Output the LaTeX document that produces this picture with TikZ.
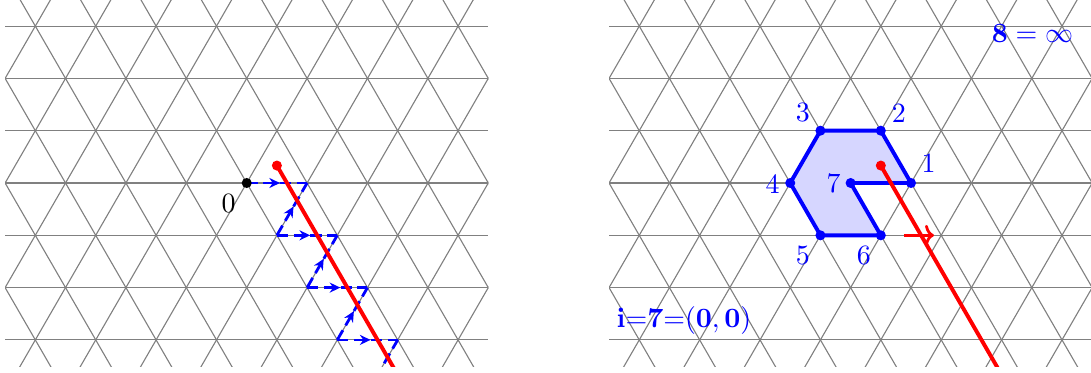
\documentclass[tikz,border=0pt]{standalone}
\usetikzlibrary{arrows.meta,decorations.markings}
\begin{document}
\begin{tikzpicture}[x=0.76cm,y=0.76cm,
  gridline/.style={gray,line width=0.4pt},
  dpath/.style={blue,line width=1pt,dash pattern=on 4pt off 2pt,
    postaction={decorate},
    decoration={markings,mark=at position 0.55 with {\arrow{Stealth[length=3.8pt,width=3.6pt]}}}},
  dpathplain/.style={blue,line width=1pt,dash pattern=on 4pt off 2pt},
  hexline/.style={blue,line width=1.4pt,line join=round},
  redline/.style={red,line width=1.4pt},
  lab/.style={blue,inner sep=0pt},
  dotr/.style={circle,fill,inner sep=0pt,minimum size=3.6pt}
]
\def\hh{0.8660254}
\useasboundingbox (-4.085,-3.13) rectangle (13.98,3.03);

% grids
\foreach \ox in {0,10}{
  \begin{scope}[shift={(\ox,0)}]
    \clip (-4,-3.5*\hh) rectangle (4,3.5*\hh);
    \foreach \k in {-3,...,3} \draw[gridline] (-4,\k*\hh) -- (4,\k*\hh);
    \foreach \c in {-6,...,6} {
      \draw[gridline] (\c-2,-4*\hh) -- (\c+2,4*\hh);
      \draw[gridline] (\c+2,-4*\hh) -- (\c-2,4*\hh);
    }
  \end{scope}
}

% ---------- left panel ----------
\coordinate (P0) at (0,0);
\coordinate (A1) at (1,0);
\coordinate (B1) at (0.5,-\hh);
\coordinate (A2) at (1.5,-\hh);
\coordinate (B2) at (1,-2*\hh);
\coordinate (A3) at (2,-2*\hh);
\coordinate (B3) at (1.5,-3*\hh);
\coordinate (A4) at (2.5,-3*\hh);
\coordinate (B4) at (2,-4*\hh);
\coordinate (CL) at (0.5,\hh/3);
\coordinate (CLend) at (3,-4.667*\hh);
\begin{scope}
  \clip (-4,-3.5*\hh) rectangle (4,3.5*\hh);
  \draw[dpath] (P0) -- (A1);
  \draw[dpath] (B1) -- (A1);
  \draw[dpath] (B1) -- (A2);
  \draw[dpath] (B2) -- (A2);
  \draw[dpath] (B2) -- (A3);
  \draw[dpath] (B3) -- (A3);
  \draw[dpath] (B3) -- (A4);
  \draw[dpathplain] (B4) -- (A4);
  \draw[redline] (CL) -- (CLend);
\end{scope}
\node[dotr,black] (d0) at (P0) {};
\node[dotr,red] (dl) at (CL) {};
\node[inner sep=0pt] (l0) at (-0.3,-0.34) {0};

% ---------- right panel ----------
\coordinate (V1) at (11,0);
\coordinate (V2) at (10.5,\hh);
\coordinate (V3) at (9.5,\hh);
\coordinate (V4) at (9,0);
\coordinate (V5) at (9.5,-\hh);
\coordinate (V6) at (10.5,-\hh);
\coordinate (V7) at (10,0);
\coordinate (CR) at (10.5,\hh/3);
\coordinate (CRend) at (13,-4.667*\hh);
\coordinate (RA1) at (10.88,-\hh);
\coordinate (RA2) at (11.38,-\hh);
\fill[blue!16] (V1) -- (V2) -- (V3) -- (V4) -- (V5) -- (V6) -- (V7) -- cycle;
\draw[hexline] (V1) -- (V2) -- (V3) -- (V4) -- (V5) -- (V6) -- (V7) -- cycle;
\begin{scope}
  \clip (6,-3.5*\hh) rectangle (14,3.5*\hh);
  \draw[redline] (CR) -- (CRend);
\end{scope}
\draw[red,line width=1pt,-{To[length=3.2pt,width=7.5pt]}] (RA1) -- (RA2);
\foreach \v in {1,...,7} \node[dotr,blue] (dv\v) at (V\v) {};
\node[dotr,red] (dr) at (CR) {};
\node[lab] (n1) at (11.29,0.32) {1};
\node[lab] (n2) at (10.80,1.16) {2};
\node[lab] (n3) at (9.21,1.16) {3};
\node[lab] (n4) at (8.71,-0.02) {4};
\node[lab] (n5) at (9.21,-1.205) {5};
\node[lab] (n6) at (10.22,-1.205) {6};
\node[lab] (n7) at (9.72,0.0) {7};
\node[lab] (inf) at (13.01,2.47) {$\mathbf{8}=\infty$};
\node[lab] (ieq) at (7.24,-2.28) {$\mathbf{i}{=}\mathbf{7}{=}(\mathbf{0},\mathbf{0})$};
\end{tikzpicture}
\end{document}
